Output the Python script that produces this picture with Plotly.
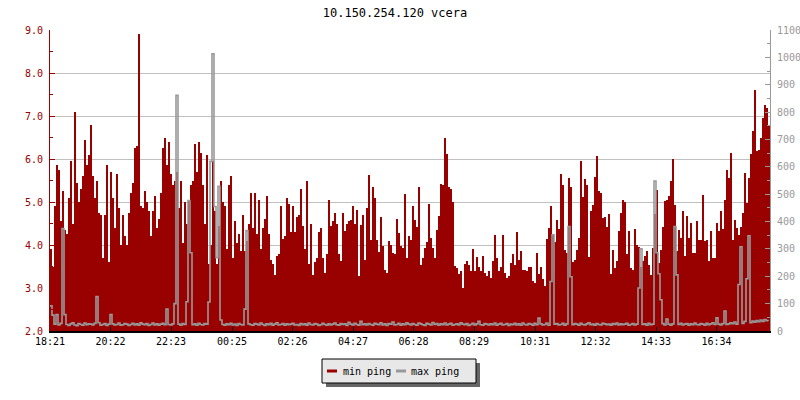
import plotly.graph_objects as go

# ---------------- data ----------------
title_text = "10.150.254.120 vcera"
series_names = ["min ping", "max ping"]
start_label = "18:21"
bin_minutes = 4

tick_labels = ["18:21", "20:22", "22:23", "00:25", "02:26", "04:27",
               "06:28", "08:29", "10:31", "12:32", "14:33", "16:34"]

# min ping (left axis)
min_ping = [
    3.9, 3.5, 4.9, 5.85, 5.75, 4.55, 5.25, 4.35, 4.25, 5.1,
    5.95, 4.5, 7.1, 5.45, 5.0, 5.3, 5.6, 6.45, 5.85, 6.1,
    6.8, 5.6, 5.1, 5.5, 4.75, 4.7, 3.7, 4.7, 5.85, 3.6,
    5.7, 5.1, 4.4, 5.65, 4.85, 4.0, 4.7, 4.2, 4.0, 4.75,
    5.2, 5.45, 6.25, 6.3, 8.9, 4.9, 4.85, 5.25, 5.0, 4.8,
    4.2, 4.8, 5.15, 4.4, 4.6, 5.2, 6.25, 6.5, 5.85, 6.4,
    5.65, 5.4, 5.5, 5.7, 4.85, 5.5, 4.05, 5.0, 4.5, 5.05,
    5.4, 5.5,
    6.35, 5.7, 6.4, 6.15, 5.4, 4.5, 6.1, 3.55, 4.0, 5.95,
    4.8, 3.55, 4.45, 5.5, 5.0, 4.9, 3.9, 5.4, 5.6, 3.7,
    4.55, 4.05, 4.25, 3.85, 4.7, 3.85, 4.1, 4.5, 5.2, 4.4,
    5.2, 4.25, 5.05, 3.9, 4.4, 4.6, 5.15, 4.25, 3.65, 3.55,
    3.3, 3.75, 3.8, 4.9, 4.15, 4.2, 5.1, 4.95, 4.3, 4.9,
    4.3, 4.65, 4.7, 5.3, 4.45, 3.9, 5.5, 3.55, 4.5, 3.3,
    3.6, 3.7, 4.3, 4.4, 3.7, 3.35, 3.8, 5.05, 4.45, 4.55,
    4.75, 4.5,
    3.78, 3.62, 4.74, 4.32, 4.49, 4.55, 4.57, 4.9, 4.49, 4.82,
    3.27, 4.47, 4.7, 3.66, 4.86, 5.62, 4.12, 5.36, 5.09, 4.12,
    3.83, 4.64, 3.98, 3.43, 3.36, 4.1, 3.99, 3.81, 3.8, 4.61,
    4.28, 3.97, 3.93, 5.19, 3.7, 4.2, 4.12, 4.9, 4.59, 4.41,
    5.36, 3.54, 3.7, 3.93, 4.07, 4.95, 4.16, 3.93, 3.7, 4.36,
    4.67, 5.43, 5.39, 6.49, 6.12, 5.36, 5.31, 5.0, 3.52, 3.47,
    3.33, 3.39, 3.0, 3.56, 3.62, 3.54, 3.39, 3.91, 3.39, 3.71,
    3.5, 3.4,
    3.74, 3.35, 3.27, 3.39, 3.23, 3.62, 4.24, 3.7, 3.39, 3.5,
    4.24, 3.35, 3.23, 3.27, 3.58, 3.8, 3.54, 4.3, 3.66, 3.85,
    3.43, 3.43, 3.39, 3.5, 3.49, 3.16, 3.12, 3.81, 3.33, 3.5,
    3.22, 3.05, 4.15, 4.4, 4.91, 4.24, 4.06, 4.59, 4.38, 5.65,
    5.39, 3.89, 3.81, 5.56, 5.34, 3.6, 3.64, 3.89, 4.16, 5.96,
    5.11, 5.53, 5.39, 3.71, 4.8, 4.94, 5.58, 6.08, 5.25, 5.21,
    4.63, 4.64, 4.43, 4.71, 3.33, 3.89, 3.47, 3.62, 4.32, 4.74,
    5.05, 5.0,
    3.78, 4.32, 3.47, 3.43, 4.38, 4.01, 3.95, 3.5, 3.62, 3.74,
    3.85, 3.54, 3.31, 3.93, 4.73, 5.29, 3.58, 3.89, 4.43, 5.02,
    5.05, 5.13, 5.48, 6.01, 4.94, 3.85, 4.36, 4.16, 4.78, 3.74,
    4.67, 4.16, 4.51, 3.81, 3.81, 4.55, 4.12, 4.12, 5.17, 4.09,
    4.12, 3.62, 4.32, 3.7, 3.7, 4.51, 4.32, 4.78, 4.38, 5.05,
    5.75, 5.56, 6.14, 4.12, 4.59, 4.4, 4.24, 4.43, 4.74, 5.67,
    4.98, 5.56, 6.12, 6.64, 7.61, 6.18, 6.22, 6.49, 6.95, 7.26,
    7.19, 6.8,
]

# max ping in ms (right axis)
max_ping = [
    92, 58, 25, 60, 22, 28, 374, 60, 24, 20, 26, 30, 22, 19, 27, 24, 21, 29, 23, 26,
    25, 22, 28, 126, 30, 21, 24, 27, 20, 25, 60, 26, 22, 24, 29, 21, 23, 27, 25, 20,
    24, 28, 22, 26, 21, 30, 25, 23, 27, 20, 24, 29, 22, 26, 21, 25, 28, 23, 80, 24,
    22, 26, 100, 861, 25, 21, 27, 24, 107, 477, 286, 23, 26, 21, 28, 24, 22, 27, 25, 106,
    620, 1013, 455, 268, 529, 40, 24, 21, 26, 23, 28, 22, 25, 20, 27, 24, 22, 80, 367, 26,
    23, 21, 27, 25, 22, 29, 24, 20, 26, 23, 28, 21, 25, 30, 22, 24, 27, 21, 26, 23,
    25, 28, 22, 24, 20, 27, 23, 26, 21, 29, 24, 22, 27, 25, 20, 23, 28, 24, 21, 26,
    22, 25, 29, 23, 21, 27, 24, 26, 20, 32, 25, 22, 28, 24, 21, 35, 23, 26, 22, 27,
    24, 21, 28, 25, 23, 30, 22, 26, 20, 27, 25, 33, 22, 24, 28, 21, 26, 23, 30, 25,
    22, 27, 24, 21, 29, 26, 23, 20, 28, 25, 22, 31, 24, 27, 21, 26, 23, 29, 22, 25,
    28, 21, 24, 26, 22, 30, 25, 23, 27, 20, 24, 28, 22, 26, 35, 23, 21, 27, 25, 22,
    26, 23, 29, 21, 25, 28, 22, 24, 27, 20, 25, 23, 28, 22, 26, 21, 29, 24, 22, 27,
    25, 21, 28, 23, 47, 26, 22, 24, 29, 21, 181, 352, 25, 27, 22, 24, 28, 21, 26, 382,
    198, 23, 27, 25, 21, 28, 24, 22, 26, 30, 23, 25, 21, 27, 24, 22, 28, 26, 23, 25,
    21, 27, 24, 29, 22, 26, 23, 25, 28, 21, 24, 27, 22, 25, 157, 300, 24, 26, 21, 28,
    23, 25, 548, 286, 209, 114, 27, 22, 44, 25, 21, 26, 382, 205, 24, 28, 22, 25, 27, 21,
    26, 23, 29, 24, 22, 27, 25, 21, 28, 23, 26, 30, 24, 48, 25, 22, 27, 73, 24, 26,
    30, 27, 33, 25, 170, 308, 28, 35, 191, 348, 30, 36, 32, 38, 34, 40, 35, 42, 38, 36,
]

left_range = [2.0, 9.0]
right_range = [0, 1100]
window_minutes = 1440

# ---------------- derived positions ----------------
def to_min(lbl):
    h, m = lbl.split(":")
    return int(h) * 60 + int(m)

t0 = to_min(start_label)
tick_vals = [(to_min(l) - t0) % 1440 for l in tick_labels]
x_min = [i * bin_minutes for i in range(len(min_ping))]
x_max = [i * bin_minutes for i in range(len(max_ping))]

RED = "#990000"
GRAY = "#999999"
FONT = "DejaVu Sans Mono"

fig = go.Figure()
fig.add_trace(go.Bar(
    x=x_min, y=min_ping, name=series_names[0],
    width=bin_minutes, offset=0,
    marker=dict(color=RED, line=dict(width=0)),
    showlegend=False,
))
fig.add_trace(go.Scatter(
    x=x_max, y=max_ping, name=series_names[1], yaxis="y2",
    mode="lines", line=dict(color=GRAY, width=1.6, shape="hv"),
    showlegend=False,
))

# plot area: x 50..770, y 30..331 (px)
L, R, T, B = 50, 30, 30, 69
W, H = 800, 400
PW, PH = W - L - R, H - T - B

def px_x(px):
    return (px - L) / PW

def px_y(py):
    return (H - B - py) / PH

shapes = [
    # legend shadow
    dict(type="rect", xref="paper", yref="paper",
         x0=px_x(326), x1=px_x(480), y0=px_y(387), y1=px_y(363),
         fillcolor="#666666", line=dict(width=0)),
    # legend box
    dict(type="rect", xref="paper", yref="paper",
         x0=px_x(322), x1=px_x(476), y0=px_y(383), y1=px_y(359),
         fillcolor="#e8e8e8", line=dict(color="black", width=1)),
    dict(type="line", xref="paper", yref="paper",
         x0=px_x(327), x1=px_x(337), y0=px_y(371), y1=px_y(371),
         line=dict(color=RED, width=3)),
    dict(type="line", xref="paper", yref="paper",
         x0=px_x(396), x1=px_x(406), y0=px_y(371), y1=px_y(371),
         line=dict(color=GRAY, width=3)),
]
annotations = [
    dict(text=series_names[0], xref="paper", yref="paper",
         x=px_x(341), y=px_y(371), xanchor="left", yanchor="middle",
         showarrow=False, font=dict(family=FONT, size=10, color="black")),
    dict(text=series_names[1], xref="paper", yref="paper",
         x=px_x(409), y=px_y(371), xanchor="left", yanchor="middle",
         showarrow=False, font=dict(family=FONT, size=10, color="black")),
]

fig.update_layout(
    width=W, height=H,
    margin=dict(l=L, r=R, t=T, b=B, pad=0, autoexpand=False),
    paper_bgcolor="white", plot_bgcolor="white",
    bargap=0,
    hovermode=False,
    title=dict(text=title_text, x=395 / W, xref="container", xanchor="center",
               y=1 - 13 / H, yref="container", yanchor="middle",
               font=dict(family=FONT, size=12, color="black")),
    xaxis=dict(range=[0, window_minutes], tickvals=tick_vals, ticktext=tick_labels,
               ticks="inside", ticklen=4, tickcolor="black", tickwidth=1,
               showline=True, linecolor="black", linewidth=2,
               showgrid=False, zeroline=False, automargin=False,
               tickfont=dict(family=FONT, size=10, color="black")),
    yaxis=dict(range=left_range, dtick=1, tick0=2, tickformat=".1f",
               ticks="inside", ticklen=5, tickcolor=RED,
               showline=True, linecolor=RED, linewidth=1,
               showgrid=True, gridcolor="#c0c0c0", gridwidth=1, zeroline=False,
               ticklabelstandoff=4, automargin=False,
               minor=dict(dtick=0.5, ticks="inside", ticklen=3, tickcolor=RED, showgrid=False),
               tickfont=dict(family=FONT, size=10, color=RED)),
    yaxis2=dict(range=right_range, dtick=100, overlaying="y", side="right",
                ticks="inside", ticklen=5, tickcolor=GRAY,
                showline=True, linecolor=GRAY, linewidth=1,
                showgrid=False, zeroline=False, ticklabelstandoff=4, automargin=False,
                minor=dict(dtick=50, ticks="inside", ticklen=3, tickcolor=GRAY, showgrid=False),
                tickfont=dict(family=FONT, size=10, color=GRAY)),
    shapes=shapes,
    annotations=annotations,
)

fig.write_html("out.html", config={"displayModeBar": False},
               post_script="document.body.style.margin='0';")
